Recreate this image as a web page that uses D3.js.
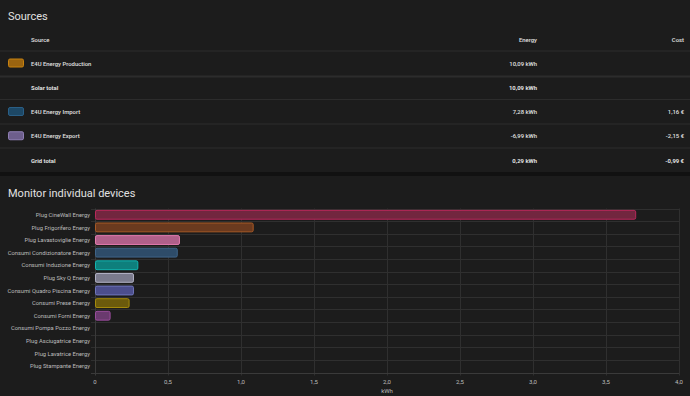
<!DOCTYPE html>
<html>
<head>
<meta charset="utf-8">
<script src="https://cdn.jsdelivr.net/npm/d3@7"></script>
<style>
  body { margin: 0; background: #111111; }
  svg { display: block; font-family: Roboto, "Noto Sans", sans-serif; }
</style>
</head>
<body>
<div id="chart"></div>
<script>
// Sources table
const sourceNames = ["E4U Energy Production", "Solar total", "E4U Energy Import", "E4U Energy Export", "Grid total"];
const sourceEnergy = [10.09, 10.09, 7.28, -6.99, 0.29];
const sourceCost = [null, null, 1.16, -2.15, -0.99];
const sourceSwatch = [["#9a6410", "#c8820f"], null, ["#1d4866", "#2a5f86"], ["#6d5e8c", "#8f7fb4"], null];
const sourceTotal = [false, true, false, false, true];

// Devices
const devices = ["Plug CineWall Energy", "Plug Frigorifero Energy", "Plug Lavastoviglie Energy",
  "Consumi Condizionatore Energy", "Consumi Induzione Energy", "Plug Sky Q Energy",
  "Consumi Quadro Piscina Energy", "Consumi Prese Energy", "Consumi Forni Energy",
  "Consumi Pompa Pozzo Energy", "Plug Asciugatrice Energy", "Plug Lavatrice Energy",
  "Plug Stampante Energy"];
const deviceKwh = [3.70, 1.08, 0.575, 0.56, 0.29, 0.26, 0.26, 0.23, 0.10, 0, 0, 0, 0];
const deviceFill = ["#72263f", "#6b3a1f", "#b0608a", "#2e4c69", "#0e7f7c", "#7b7b8d", "#4c4e8c", "#6b5a0c", "#6a3a6e",
  "#555", "#555", "#555", "#555"];
const deviceStroke = ["#b8285a", "#a85a26", "#e27aae", "#3f6488", "#12b5b0", "#b2b2c6", "#6f76bb", "#a48a0c", "#9a4c9c",
  "#777", "#777", "#777", "#777"];
const xTicks = [0, 0.5, 1, 1.5, 2, 2.5, 3, 3.5, 4];

const W = 690, H = 396;
const fmt = v => d3.format(".2f")(v).replace(".", ",").replace("−", "-");

const svg = d3.select("#chart").append("svg")
  .attr("width", W).attr("height", H);

// cards
svg.append("rect").attr("x", 0).attr("y", 0).attr("width", W).attr("height", 172).attr("fill", "#1c1c1c");
svg.append("rect").attr("x", 0).attr("y", 176).attr("width", W).attr("height", 220).attr("fill", "#1c1c1c");

svg.append("text").attr("x", 8).attr("y", 19.5).attr("fill", "#e1e1e1")
  .style("font-size", "11px").text("Sources");

// table
const rowY = d3.scalePoint().domain(d3.range(sourceNames.length)).range([63.5, 160.5]);
const colTxt = "#e1e1e1";
const tfs = "5.9px";

svg.append("text").attr("x", 31).attr("y", 41.5).attr("fill", colTxt)
  .style("font-size", tfs).style("font-weight", 500).text("Source");
svg.append("text").attr("x", 537).attr("y", 41.5).attr("text-anchor", "end").attr("fill", colTxt)
  .style("font-size", tfs).style("font-weight", 500).text("Energy");
svg.append("text").attr("x", 684).attr("y", 41.5).attr("text-anchor", "end").attr("fill", colTxt)
  .style("font-size", tfs).style("font-weight", 500).text("Cost");

// separators
[51, 99.5, 124, 148].forEach(yy => {
  svg.append("line").attr("x1", 0).attr("x2", W).attr("y1", yy).attr("y2", yy)
    .attr("stroke", "#2c2c2c").attr("stroke-width", 1);
});
svg.append("line").attr("x1", 0).attr("x2", W).attr("y1", 76.5).attr("y2", 76.5)
  .attr("stroke", "#2c2c2c").attr("stroke-width", 2);

const rows = svg.selectAll(".srow")
  .data(sourceNames.map((n, i) => ({ n, i })))
  .join("g")
    .attr("class", "srow")
    .attr("transform", d => `translate(0,${rowY(d.i)})`);

rows.filter(d => sourceSwatch[d.i])
  .append("rect")
    .attr("x", 8.5).attr("y", -4.5).attr("width", 15).attr("height", 8).attr("rx", 1.5)
    .attr("fill", d => sourceSwatch[d.i][0])
    .attr("stroke", d => sourceSwatch[d.i][1]).attr("stroke-width", 1);

rows.append("text")
  .attr("x", 31).attr("y", 2.1).attr("fill", colTxt)
  .style("font-size", tfs).style("font-weight", d => sourceTotal[d.i] ? 700 : 500)
  .text(d => d.n);

rows.append("text")
  .attr("x", 537).attr("y", 2.1).attr("text-anchor", "end").attr("fill", colTxt)
  .style("font-size", tfs).style("font-weight", d => sourceTotal[d.i] ? 700 : 500)
  .text(d => fmt(sourceEnergy[d.i]) + " kWh");

rows.filter(d => sourceCost[d.i] !== null)
  .append("text")
  .attr("x", 684).attr("y", 2.1).attr("text-anchor", "end").attr("fill", colTxt)
  .style("font-size", tfs).style("font-weight", d => sourceTotal[d.i] ? 700 : 500)
  .text(d => fmt(sourceCost[d.i]) + " €");

// devices chart
svg.append("text").attr("x", 8).attr("y", 196.5).attr("fill", "#e1e1e1")
  .style("font-size", "11px").text("Monitor individual devices");

const plotLeft = 95, plotRight = 679, plotTop = 208.5, plotBottom = 372.5;
const x = d3.scaleLinear().domain([0, 4]).range([plotLeft, plotRight]);
const y = d3.scaleBand().domain(devices).range([plotTop, plotBottom]).paddingInner(0.3).paddingOuter(0.15);
const yLines = d3.scaleLinear().domain([0, devices.length]).range([plotTop, plotBottom]);

const grid = svg.append("g");
grid.selectAll(".hl").data(d3.range(devices.length + 1)).join("line")
  .attr("x1", plotLeft - 4).attr("x2", plotRight)
  .attr("y1", d => Math.round(yLines(d)) + 0.5).attr("y2", d => Math.round(yLines(d)) + 0.5)
  .attr("stroke", "#2f2f2f");
grid.selectAll(".vl").data(xTicks).join("line")
  .attr("x1", d => Math.round(x(d)) + 0.5).attr("x2", d => Math.round(x(d)) + 0.5)
  .attr("y1", plotTop).attr("y2", plotBottom + 3)
  .attr("stroke", (d, i) => (i === 0 ? "#3a3a3a" : "#2f2f2f"));
grid.append("line").attr("x1", plotLeft - 4).attr("x2", plotRight)
  .attr("y1", Math.round(plotBottom) + 0.5).attr("y2", Math.round(plotBottom) + 0.5).attr("stroke", "#3a3a3a");

svg.selectAll(".bar")
  .data(devices.map((d, i) => ({ d, v: deviceKwh[i], i })).filter(e => e.v > 0))
  .join("rect")
    .attr("class", "bar")
    .attr("x", x(0) + 0.5)
    .attr("y", e => y(e.d))
    .attr("width", e => x(e.v) - x(0))
    .attr("height", y.bandwidth())
    .attr("rx", 1.5)
    .attr("fill", e => deviceFill[e.i])
    .attr("stroke", e => deviceStroke[e.i])
    .attr("stroke-width", 1);

svg.selectAll(".ylab").data(devices).join("text")
  .attr("x", 90).attr("y", d => y(d) + y.bandwidth() / 2 + 2.1)
  .attr("text-anchor", "end").attr("fill", "#bdbdbd")
  .style("font-size", "5.8px")
  .text(d => d);

svg.selectAll(".xlab").data(xTicks).join("text")
  .attr("x", d => x(d)).attr("y", 384)
  .attr("text-anchor", "middle").attr("fill", "#bdbdbd")
  .style("font-size", "6px")
  .text(d => d3.format(".1f")(d).replace(".", ",").replace(/^0,0$/, "0"));

svg.append("text").attr("x", 387).attr("y", 393).attr("text-anchor", "middle")
  .attr("fill", "#bdbdbd").style("font-size", "6px").text("kWh");
</script>
</body>
</html>
